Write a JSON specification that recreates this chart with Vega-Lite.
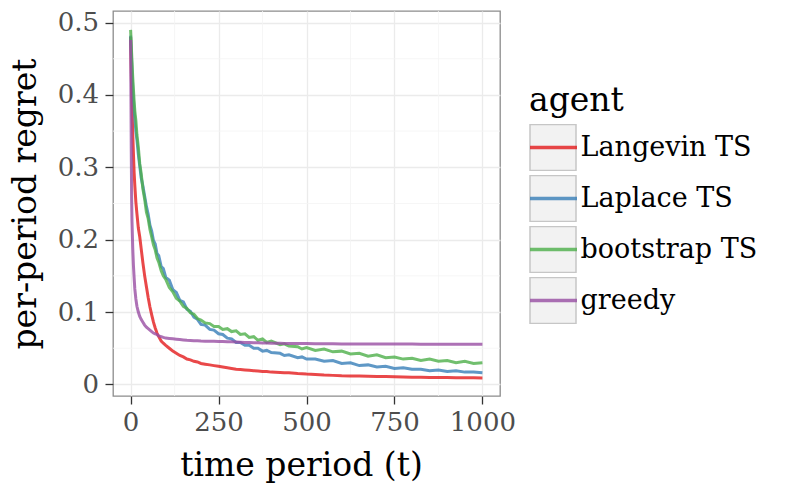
{
  "$schema": "https://vega.github.io/schema/vega-lite/v6.json",
  "width": 387,
  "height": 385,
  "autosize": {"type": "none"},
  "padding": {"left": 113, "top": 11, "right": 286, "bottom": 96},
  "background": "white",
  "config": {
    "font": "DejaVu Serif",
    "view": {"stroke": "#8c8c8c", "strokeWidth": 1.3},
    "axis": {"domain": false, "gridColor": "#ebebeb", "gridWidth": 1.3, "tickColor": "#333333", "tickSize": 8, "tickWidth": 1.3, "labelFont": "DejaVu Serif", "labelFontSize": 26, "labelColor": "#4d4d4d", "labelFlush": false, "titleFont": "DejaVu Serif", "titleFontSize": 33, "titleFontWeight": "normal", "titleColor": "#000000"},
    "axisX": {"labelPadding": 5, "titlePadding": 14},
    "axisY": {"labelPadding": 6.5, "titlePadding": 15}
  },
  "layer": [
    {
      "data": {"values": [{"gx": 125}, {"gx": 375}, {"gx": 625}, {"gx": 875}]},
      "mark": {"type": "rule", "color": "#f4f4f4", "strokeWidth": 0.8},
      "encoding": {"x": {"field": "gx", "type": "quantitative", "scale": {"domain": [-50, 1050], "nice": false, "zero": false},
        "axis": {"title": "time period (t)", "titleX": 188, "values": [0, 250, 500, 750, 1000], "format": "d", "grid": true}}}
    },
    {
      "data": {"values": [{"gy": 0.05}, {"gy": 0.15}, {"gy": 0.25}, {"gy": 0.35}, {"gy": 0.45}]},
      "mark": {"type": "rule", "color": "#f4f4f4", "strokeWidth": 0.8},
      "encoding": {"y": {"field": "gy", "type": "quantitative", "scale": {"domain": [-0.016, 0.516], "nice": false, "zero": false},
        "axis": {"title": "per-period regret", "values": [0, 0.1, 0.2, 0.3, 0.4, 0.5], "format": "~g", "grid": true}}}
    },
    {
      "data": {"values": [{"key": "k1"}, {"key": "k2"}, {"key": "k3"}, {"key": "k4"}]},
      "transform": [{"filter": "datum.key == 'none'"}],
      "mark": {"type": "point", "filled": true, "color": "#f2f2f2", "fill": "#f2f2f2", "stroke": "#c6c6c6", "strokeWidth": 1.5, "opacity": 1},
      "encoding": {
        "shape": {"field": "key", "type": "nominal",
          "scale": {"domain": ["k1", "k2", "k3", "k4"], "range": ["square", "square", "square", "square"]},
          "legend": {"orient": "none", "legendX": 416, "legendY": 74, "padding": 0, "zindex": 0, "title": " ",
            "titleFont": "DejaVu Serif", "titleFontSize": 33, "titleFontWeight": "normal", "titleColor": "#000000", "titleOpacity": 0, "titlePadding": 6,
            "labelFont": "DejaVu Serif", "labelFontSize": 27, "labelOpacity": 0, "labelExpr": "''", "labelOffset": 2, "labelLimit": 400,
            "symbolType": "square", "symbolSize": 2116, "symbolStrokeWidth": 1.5, "symbolOpacity": 1, "clipHeight": 47, "rowPadding": 4,
            "encode": {"symbols": {"fill": {"value": "#f2f2f2"}, "stroke": {"value": "#c6c6c6"}, "strokeWidth": {"value": 1.5}, "opacity": {"value": 1}}}}}
      }
    },
    {
      "data": {"values": [
        {"t": 0, "Langevin TS": 0.480, "Laplace TS": 0.482, "bootstrap TS": 0.490, "greedy": 0.476},
        {"t": 1, "Langevin TS": 0.455, "Laplace TS": 0.470, "bootstrap TS": 0.480, "greedy": 0.400},
        {"t": 2, "Langevin TS": 0.430, "Laplace TS": 0.458, "bootstrap TS": 0.468, "greedy": 0.320},
        {"t": 3, "Langevin TS": 0.405, "Laplace TS": 0.446, "bootstrap TS": 0.457, "greedy": 0.255},
        {"t": 4, "Langevin TS": 0.385, "Laplace TS": 0.434, "bootstrap TS": 0.446, "greedy": 0.225},
        {"t": 6, "Langevin TS": 0.348, "Laplace TS": 0.412, "bootstrap TS": 0.425, "greedy": 0.190},
        {"t": 8, "Langevin TS": 0.320, "Laplace TS": 0.395, "bootstrap TS": 0.408, "greedy": 0.165},
        {"t": 10, "Langevin TS": 0.293, "Laplace TS": 0.380, "bootstrap TS": 0.392, "greedy": 0.148},
        {"t": 12, "Langevin TS": 0.275, "Laplace TS": 0.368, "bootstrap TS": 0.378, "greedy": 0.132},
        {"t": 15, "Langevin TS": 0.252, "Laplace TS": 0.350, "bootstrap TS": 0.365, "greedy": 0.118},
        {"t": 18, "Langevin TS": 0.236, "Laplace TS": 0.338, "bootstrap TS": 0.345, "greedy": 0.108},
        {"t": 22, "Langevin TS": 0.216, "Laplace TS": 0.318, "bootstrap TS": 0.328, "greedy": 0.100},
        {"t": 26, "Langevin TS": 0.204, "Laplace TS": 0.302, "bootstrap TS": 0.305, "greedy": 0.094},
        {"t": 30, "Langevin TS": 0.188, "Laplace TS": 0.286, "bootstrap TS": 0.292, "greedy": 0.090},
        {"t": 35, "Langevin TS": 0.168, "Laplace TS": 0.274, "bootstrap TS": 0.270, "greedy": 0.086},
        {"t": 40, "Langevin TS": 0.150, "Laplace TS": 0.260, "bootstrap TS": 0.256, "greedy": 0.082},
        {"t": 45, "Langevin TS": 0.135, "Laplace TS": 0.246, "bootstrap TS": 0.238, "greedy": 0.079},
        {"t": 50, "Langevin TS": 0.120, "Laplace TS": 0.235, "bootstrap TS": 0.229, "greedy": 0.077},
        {"t": 55, "Langevin TS": 0.107, "Laplace TS": 0.220, "bootstrap TS": 0.214, "greedy": 0.075},
        {"t": 60, "Langevin TS": 0.096, "Laplace TS": 0.212, "bootstrap TS": 0.204, "greedy": 0.073},
        {"t": 65, "Langevin TS": 0.086, "Laplace TS": 0.199, "bootstrap TS": 0.193, "greedy": 0.071},
        {"t": 70, "Langevin TS": 0.078, "Laplace TS": 0.194, "bootstrap TS": 0.186, "greedy": 0.070},
        {"t": 75, "Langevin TS": 0.071, "Laplace TS": 0.181, "bootstrap TS": 0.175, "greedy": 0.069},
        {"t": 80, "Langevin TS": 0.066, "Laplace TS": 0.178, "bootstrap TS": 0.169, "greedy": 0.067},
        {"t": 87, "Langevin TS": 0.060, "Laplace TS": 0.163, "bootstrap TS": 0.157, "greedy": 0.066},
        {"t": 93, "Langevin TS": 0.057, "Laplace TS": 0.160, "bootstrap TS": 0.150, "greedy": 0.065},
        {"t": 100, "Langevin TS": 0.054, "Laplace TS": 0.148, "bootstrap TS": 0.145, "greedy": 0.064},
        {"t": 110, "Langevin TS": 0.050, "Laplace TS": 0.144, "bootstrap TS": 0.134, "greedy": 0.0635},
        {"t": 120, "Langevin TS": 0.046, "Laplace TS": 0.131, "bootstrap TS": 0.128, "greedy": 0.063},
        {"t": 130, "Langevin TS": 0.043, "Laplace TS": 0.127, "bootstrap TS": 0.119, "greedy": 0.0625},
        {"t": 140, "Langevin TS": 0.040, "Laplace TS": 0.116, "bootstrap TS": 0.115, "greedy": 0.062},
        {"t": 150, "Langevin TS": 0.038, "Laplace TS": 0.114, "bootstrap TS": 0.108, "greedy": 0.0615},
        {"t": 160, "Langevin TS": 0.035, "Laplace TS": 0.104, "bootstrap TS": 0.105, "greedy": 0.061},
        {"t": 170, "Langevin TS": 0.034, "Laplace TS": 0.101, "bootstrap TS": 0.099, "greedy": 0.0608},
        {"t": 180, "Langevin TS": 0.032, "Laplace TS": 0.093, "bootstrap TS": 0.097, "greedy": 0.0605},
        {"t": 190, "Langevin TS": 0.031, "Laplace TS": 0.090, "bootstrap TS": 0.091, "greedy": 0.0603},
        {"t": 200, "Langevin TS": 0.029, "Laplace TS": 0.083, "bootstrap TS": 0.089, "greedy": 0.0600},
        {"t": 212, "Langevin TS": 0.028, "Laplace TS": 0.082, "bootstrap TS": 0.085, "greedy": 0.0598},
        {"t": 225, "Langevin TS": 0.027, "Laplace TS": 0.076, "bootstrap TS": 0.084, "greedy": 0.0597},
        {"t": 237, "Langevin TS": 0.026, "Laplace TS": 0.075, "bootstrap TS": 0.080, "greedy": 0.0595},
        {"t": 250, "Langevin TS": 0.025, "Laplace TS": 0.070, "bootstrap TS": 0.080, "greedy": 0.0594},
        {"t": 262, "Langevin TS": 0.024, "Laplace TS": 0.069, "bootstrap TS": 0.076, "greedy": 0.0592},
        {"t": 275, "Langevin TS": 0.023, "Laplace TS": 0.064, "bootstrap TS": 0.077, "greedy": 0.0590},
        {"t": 287, "Langevin TS": 0.022, "Laplace TS": 0.063, "bootstrap TS": 0.073, "greedy": 0.0588},
        {"t": 300, "Langevin TS": 0.021, "Laplace TS": 0.058, "bootstrap TS": 0.074, "greedy": 0.0585},
        {"t": 312, "Langevin TS": 0.0205, "Laplace TS": 0.058, "bootstrap TS": 0.069, "greedy": 0.0583},
        {"t": 325, "Langevin TS": 0.020, "Laplace TS": 0.054, "bootstrap TS": 0.070, "greedy": 0.0580},
        {"t": 337, "Langevin TS": 0.0195, "Laplace TS": 0.054, "bootstrap TS": 0.065, "greedy": 0.0578},
        {"t": 350, "Langevin TS": 0.019, "Laplace TS": 0.050, "bootstrap TS": 0.066, "greedy": 0.0576},
        {"t": 362, "Langevin TS": 0.0185, "Laplace TS": 0.050, "bootstrap TS": 0.061, "greedy": 0.0575},
        {"t": 375, "Langevin TS": 0.018, "Laplace TS": 0.046, "bootstrap TS": 0.063, "greedy": 0.0573},
        {"t": 387, "Langevin TS": 0.0178, "Laplace TS": 0.047, "bootstrap TS": 0.058, "greedy": 0.0572},
        {"t": 400, "Langevin TS": 0.017, "Laplace TS": 0.044, "bootstrap TS": 0.060, "greedy": 0.0570},
        {"t": 425, "Langevin TS": 0.0165, "Laplace TS": 0.043, "bootstrap TS": 0.055, "greedy": 0.0568},
        {"t": 437, "Langevin TS": 0.0162, "Laplace TS": 0.040, "bootstrap TS": 0.056, "greedy": 0.0567},
        {"t": 450, "Langevin TS": 0.016, "Laplace TS": 0.041, "bootstrap TS": 0.053, "greedy": 0.0566},
        {"t": 475, "Langevin TS": 0.015, "Laplace TS": 0.037, "bootstrap TS": 0.052, "greedy": 0.0565},
        {"t": 487, "Langevin TS": 0.0148, "Laplace TS": 0.038, "bootstrap TS": 0.049, "greedy": 0.0565},
        {"t": 500, "Langevin TS": 0.0143, "Laplace TS": 0.035, "bootstrap TS": 0.051, "greedy": 0.0564},
        {"t": 525, "Langevin TS": 0.0138, "Laplace TS": 0.035, "bootstrap TS": 0.047, "greedy": 0.0563},
        {"t": 550, "Langevin TS": 0.013, "Laplace TS": 0.032, "bootstrap TS": 0.049, "greedy": 0.0562},
        {"t": 575, "Langevin TS": 0.0125, "Laplace TS": 0.033, "bootstrap TS": 0.045, "greedy": 0.0561},
        {"t": 600, "Langevin TS": 0.012, "Laplace TS": 0.029, "bootstrap TS": 0.046, "greedy": 0.0560},
        {"t": 625, "Langevin TS": 0.0118, "Laplace TS": 0.030, "bootstrap TS": 0.042, "greedy": 0.0560},
        {"t": 650, "Langevin TS": 0.0115, "Laplace TS": 0.026, "bootstrap TS": 0.043, "greedy": 0.0559},
        {"t": 675, "Langevin TS": 0.0112, "Laplace TS": 0.027, "bootstrap TS": 0.039, "greedy": 0.0559},
        {"t": 700, "Langevin TS": 0.011, "Laplace TS": 0.024, "bootstrap TS": 0.041, "greedy": 0.0558},
        {"t": 725, "Langevin TS": 0.0108, "Laplace TS": 0.025, "bootstrap TS": 0.037, "greedy": 0.0558},
        {"t": 750, "Langevin TS": 0.0105, "Laplace TS": 0.022, "bootstrap TS": 0.038, "greedy": 0.0557},
        {"t": 775, "Langevin TS": 0.0103, "Laplace TS": 0.023, "bootstrap TS": 0.035, "greedy": 0.0557},
        {"t": 800, "Langevin TS": 0.010, "Laplace TS": 0.021, "bootstrap TS": 0.036, "greedy": 0.0557},
        {"t": 825, "Langevin TS": 0.0099, "Laplace TS": 0.021, "bootstrap TS": 0.033, "greedy": 0.0556},
        {"t": 850, "Langevin TS": 0.0097, "Laplace TS": 0.019, "bootstrap TS": 0.035, "greedy": 0.0556},
        {"t": 875, "Langevin TS": 0.0096, "Laplace TS": 0.020, "bootstrap TS": 0.032, "greedy": 0.0556},
        {"t": 900, "Langevin TS": 0.0094, "Laplace TS": 0.018, "bootstrap TS": 0.033, "greedy": 0.0555},
        {"t": 925, "Langevin TS": 0.0093, "Laplace TS": 0.019, "bootstrap TS": 0.030, "greedy": 0.0555},
        {"t": 950, "Langevin TS": 0.0092, "Laplace TS": 0.017, "bootstrap TS": 0.032, "greedy": 0.0555},
        {"t": 975, "Langevin TS": 0.0091, "Laplace TS": 0.017, "bootstrap TS": 0.029, "greedy": 0.0555},
        {"t": 1000, "Langevin TS": 0.0090, "Laplace TS": 0.016, "bootstrap TS": 0.030, "greedy": 0.0555}
      ]},
      "transform": [{"fold": ["Langevin TS", "Laplace TS", "bootstrap TS", "greedy"], "as": ["agent", "regret"]}],
      "mark": {"type": "line", "strokeWidth": 3, "opacity": 0.8},
      "encoding": {
        "x": {"field": "t", "type": "quantitative", "scale": {"domain": [-50, 1050], "nice": false, "zero": false},
              "axis": {"title": "time period (t)", "titleX": 188, "values": [0, 250, 500, 750, 1000], "format": "d", "grid": true}},
        "y": {"field": "regret", "type": "quantitative", "scale": {"domain": [-0.016, 0.516], "nice": false, "zero": false},
              "axis": {"title": "per-period regret", "values": [0, 0.1, 0.2, 0.3, 0.4, 0.5], "format": "~g", "grid": true}},
        "color": {"field": "agent", "type": "nominal",
          "scale": {"domain": ["Langevin TS", "Laplace TS", "bootstrap TS", "greedy"], "range": ["#E41A1C", "#377EB8", "#4DAF4A", "#984EA3"]},
          "legend": {"orient": "none", "legendX": 416, "legendY": 74, "padding": 0, "zindex": 1, "title": "agent",
            "titleFont": "DejaVu Serif", "titleFontSize": 33, "titleFontWeight": "normal", "titleColor": "#000000", "titlePadding": 6,
            "labelFont": "DejaVu Serif", "labelFontSize": 27, "labelColor": "#000000", "labelOffset": 1.5, "labelLimit": 400,
            "symbolType": "stroke", "symbolSize": 2209, "symbolStrokeWidth": 3.5, "symbolOpacity": 0.8, "symbolOffset": -1, "clipHeight": 47, "rowPadding": 4}}
      }
    }
  ]
}
